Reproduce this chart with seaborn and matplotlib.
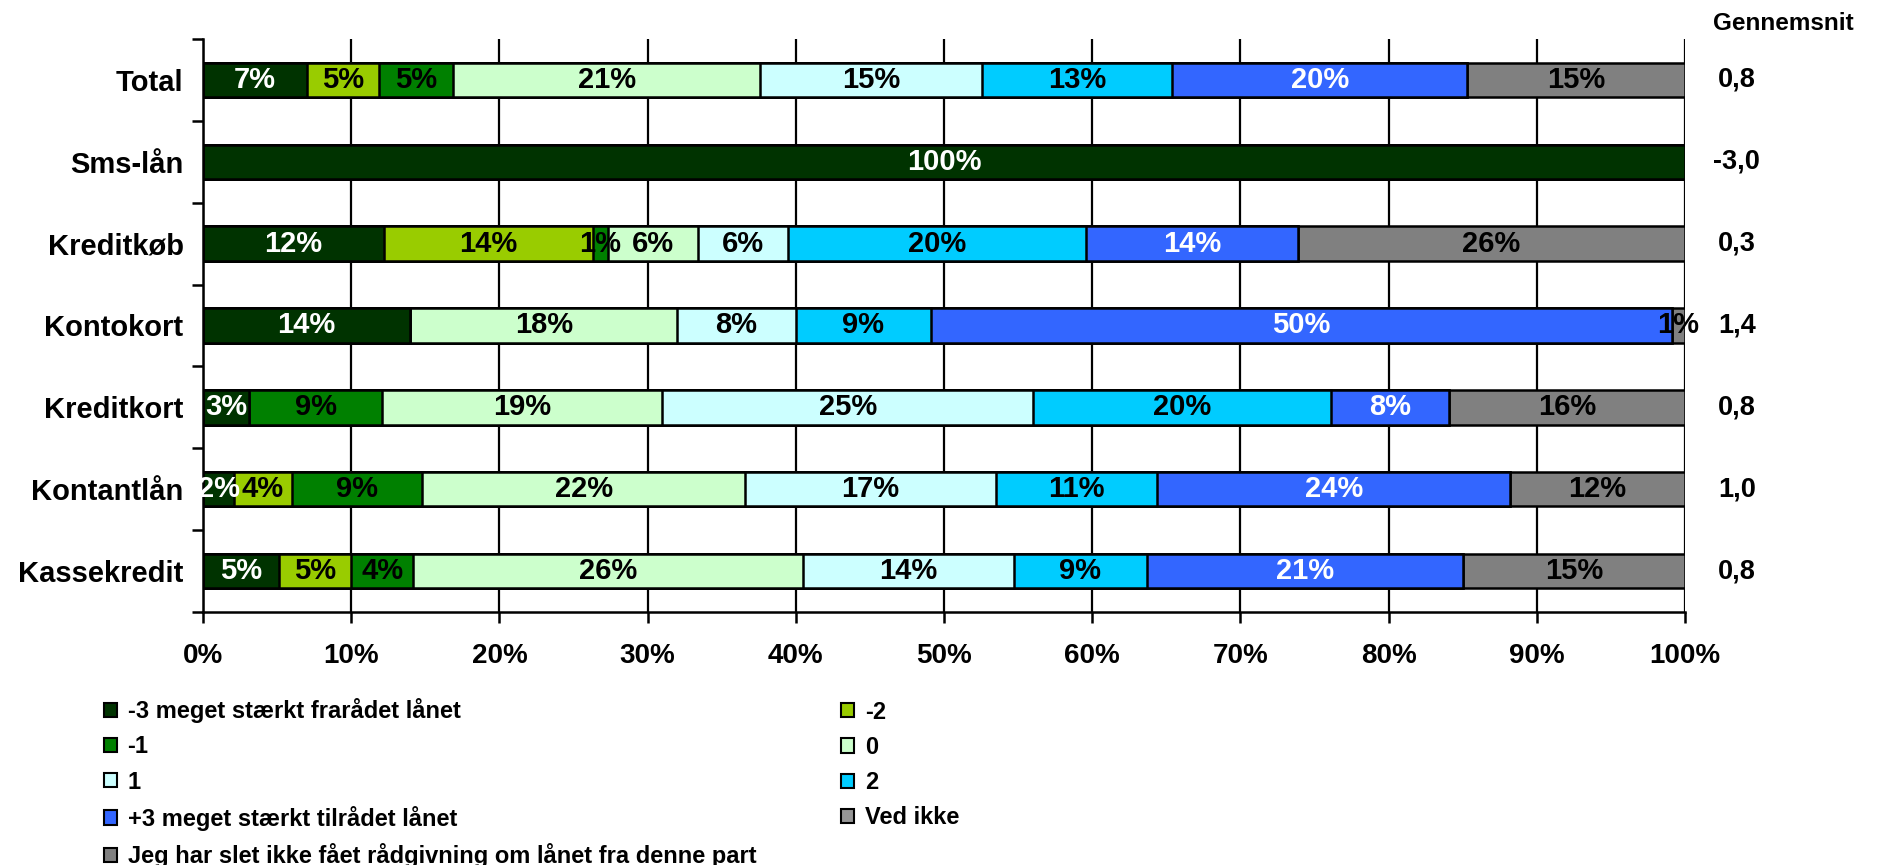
import numpy as np
import seaborn as sns
import matplotlib.pyplot as plt
from matplotlib import font_manager
from matplotlib.patches import Patch
from matplotlib.ticker import FixedLocator

categories = ["Total", "Sms-lån", "Kreditkøb", "Kontokort", "Kreditkort", "Kontantlån", "Kassekredit"]
series = ["-3 meget stærkt frarådet lånet", "-2", "-1", "0", "1", "2",
          "+3 meget stærkt tilrådet lånet", "Ved ikke",
          "Jeg har slet ikke fået rådgivning om lånet fra denne part"]
colors = ["#003300", "#99CC00", "#008000", "#CCFFCC", "#CCFFFF", "#00CCFF",
          "#3366FF", "#969696", "#808080"]
label_colors = ["white", "black", "black", "black", "black", "black", "white", "black", "black"]

# shares (%) per category, one list per series
minus3 = [7.0, 100.0, 12.2, 14.0, 3.1, 2.1, 5.1]
minus2 = [4.9, 0.0, 14.1, 0.0, 0.0, 3.9, 4.9]
minus1 = [5.0, 0.0, 1.0, 0.0, 9.0, 8.8, 4.2]
zero = [20.7, 0.0, 6.1, 18.0, 18.9, 21.8, 26.3]
plus1 = [15.0, 0.0, 6.1, 8.0, 25.0, 16.9, 14.2]
plus2 = [12.8, 0.0, 20.1, 9.1, 20.1, 10.9, 9.0]
plus3 = [19.9, 0.0, 14.3, 50.0, 8.0, 23.8, 21.3]
ved_ikke = [0.0, 0.0, 0.0, 0.0, 0.0, 0.0, 0.0]
ingen_raad = [14.7, 0.0, 26.1, 0.9, 15.9, 11.8, 15.0]

gennemsnit = [0.8, -3.0, 0.3, 1.4, 0.8, 1.0, 0.8]


def pick_font(names):
    for n in names:
        try:
            font_manager.findfont(n, fallback_to_default=False)
            return n
        except Exception:
            pass
    return "DejaVu Sans"


sns.set_theme(style="white")
main_font = pick_font(["Liberation Sans", "Arial", "DejaVu Sans"])
narrow_font = pick_font(["Liberation Sans Narrow", "Arial Narrow", "DejaVu Sans Condensed", main_font])
plt.rcParams["font.family"] = [main_font, "DejaVu Sans"]
plt.rcParams["font.weight"] = "bold"
plt.rcParams["text.color"] = "black"
plt.rcParams["xtick.color"] = "black"
plt.rcParams["ytick.color"] = "black"

data = np.array([minus3, minus2, minus1, zero, plus1, plus2, plus3, ved_ikke, ingen_raad])
cum = np.cumsum(data, axis=0)

fig = plt.figure(figsize=(18.9, 8.65), dpi=100)
ax = fig.add_axes([0.1074, 0.2925, 0.7841, 0.6625])

ax.set_axisbelow(True)
ax.grid(axis="x", color="black", linewidth=1.6)

# overlay cumulative bars, longest first
for i in reversed(range(len(series))):
    sns.barplot(x=cum[i], y=categories, color=colors[i], orient="h", width=0.42,
                edgecolor="black", linewidth=1.8, saturation=1, ax=ax)

for i in range(len(series)):
    for j in range(len(categories)):
        v = data[i, j]
        if v <= 0:
            continue
        ax.text(cum[i, j] - v / 2, j, f"{round(v):.0f}%", ha="center", va="center",
                color=label_colors[i], fontsize=21, fontweight="bold", family=narrow_font)

ax.set_xlim(0, 100)
ax.set_ylim(6.5, -0.5)
ax.set_xticks(np.arange(0, 101, 10))
ax.set_xticklabels([f"{t}%" for t in range(0, 101, 10)], fontsize=20, fontweight="bold")
ax.set_yticks(range(len(categories)))
ax.set_yticklabels(categories, fontsize=21, fontweight="bold")
ax.yaxis.set_minor_locator(FixedLocator(np.arange(-0.5, 7, 1)))
ax.tick_params(axis="y", which="major", length=0, pad=14)
ax.tick_params(axis="y", which="minor", length=8, width=1.8, color="black", left=True)
ax.tick_params(axis="x", which="major", length=8, width=1.8, color="black", bottom=True, pad=14)
ax.set_xlabel("")
ax.set_ylabel("")
for s in ["top", "right"]:
    ax.spines[s].set_visible(False)
for s in ["left", "bottom"]:
    ax.spines[s].set_color("black")
    ax.spines[s].set_linewidth(1.8)

# average column
fig.text(0.9063, 0.973, "Gennemsnit", fontsize=17.5, fontweight="bold", va="center", ha="left")
for j, g in enumerate(gennemsnit):
    ydisp = ax.transData.transform((0, j))[1]
    yfig = fig.transFigure.inverted().transform((0, ydisp))[1]
    fig.text(0.9090 if g >= 0 else 0.9063, yfig, f"{g:.1f}".replace(".", ","),
             fontsize=19.5, fontweight="bold", va="center", ha="left")

# legend in two columns, filled row by row
handles = [Patch(facecolor=c, edgecolor="black", linewidth=1.5) for c in colors]
leg_kw = dict(loc="upper left", frameon=False, prop={"size": 17, "weight": "bold"},
              handlelength=0.55, handleheight=0.55, handletextpad=0.45,
              labelspacing=0.52, borderaxespad=0, borderpad=0)
left_idx = [0, 2, 4, 6, 8]
right_idx = [1, 3, 5, 7]
fig.legend([handles[k] for k in left_idx], [series[k] for k in left_idx],
           bbox_to_anchor=(0.055, 0.193), **leg_kw)
fig.legend([handles[k] for k in right_idx], [series[k] for k in right_idx],
           bbox_to_anchor=(0.445, 0.19), **leg_kw)

fig.savefig("out.png", dpi=100)
